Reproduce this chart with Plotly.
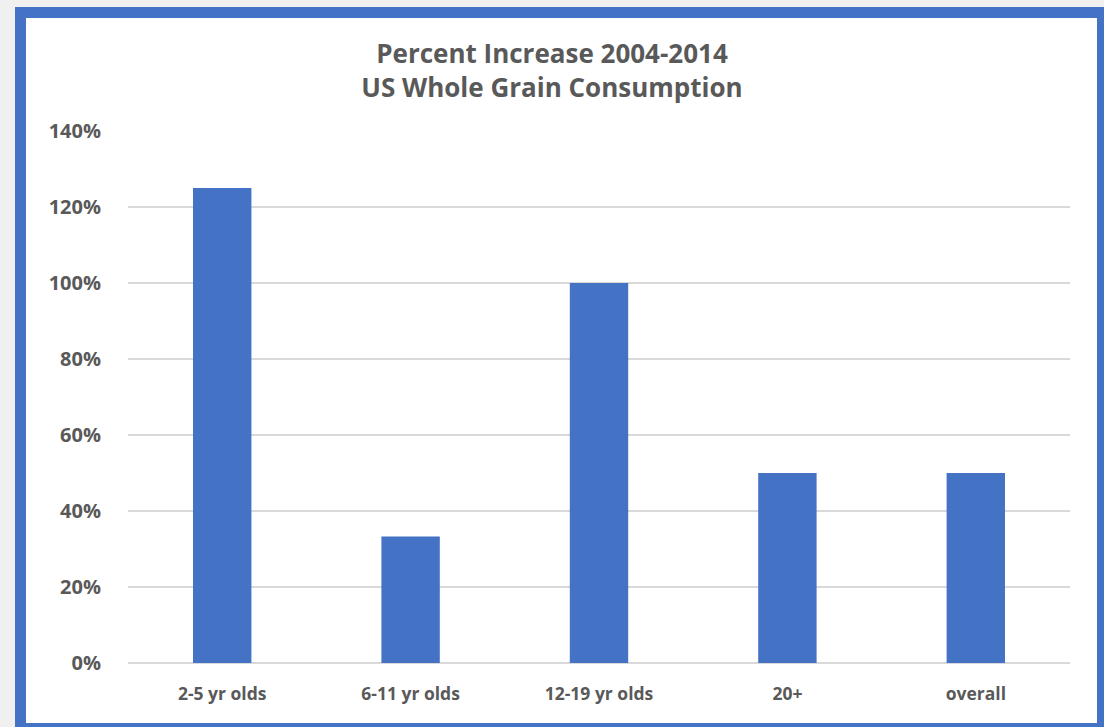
import plotly.graph_objects as go

categories = ["2-5 yr olds", "6-11 yr olds", "12-19 yr olds", "20+", "overall"]
values = [1.25, 0.333, 1.00, 0.50, 0.50]
y_ticks = [0, 0.2, 0.4, 0.6, 0.8, 1.0, 1.2, 1.4]
y_tick_labels = ["0%", "20%", "40%", "60%", "80%", "100%", "120%", "140%"]

W, H = 1104, 727
L, R, T, B = 128, 34, 131, 64
pw, ph = W - L - R, H - T - B

def px_x(x):
    return (x - L) / pw

def px_y(y):
    return (H - B - y) / ph

BLUE = "#4472C4"
TXT = "#595959"

fig = go.Figure(go.Bar(x=categories, y=values, marker=dict(color=BLUE, line=dict(width=0))))

fig.update_layout(
    width=W, height=H,
    margin=dict(l=L, r=R, t=T, b=B),
    paper_bgcolor="#f0f0f0",
    plot_bgcolor="rgba(0,0,0,0)",
    bargap=0.69,
    showlegend=False,
    font=dict(family="Open Sans", color=TXT),
    title=dict(
        text="<b>Percent Increase 2004-2014<br>US Whole Grain Consumption</b>",
        x=0.5, xanchor="center", y=1 - 63 / H, yanchor="middle",
        font=dict(size=26, color=TXT, family="Open Sans"),
    ),
    xaxis=dict(
        showgrid=False, showline=False, zeroline=False,
        ticks="outside", ticklen=15, tickcolor="rgba(0,0,0,0)",
        tickfont=dict(size=17.5, color=TXT, family="Open Sans", weight="bold"),
    ),
    yaxis=dict(
        range=[0, 1.4], tickvals=y_ticks, ticktext=y_tick_labels,
        showgrid=True, gridcolor="#d9d9d9", gridwidth=1.5,
        zeroline=True, zerolinecolor="#d9d9d9", zerolinewidth=1.5,
        showline=False,
        ticks="outside", ticklen=22, tickcolor="rgba(0,0,0,0)",
        tickfont=dict(size=20, color=TXT, family="Open Sans", weight="bold"),
    ),
    shapes=[
        dict(type="rect", xref="paper", yref="paper", layer="below",
             x0=px_x(20.5), x1=px_x(1102.5), y0=px_y(12.5), y1=px_y(728.5),
             fillcolor="white", line=dict(color=BLUE, width=11)),
    ],
)

fig.write_html("out.html")
